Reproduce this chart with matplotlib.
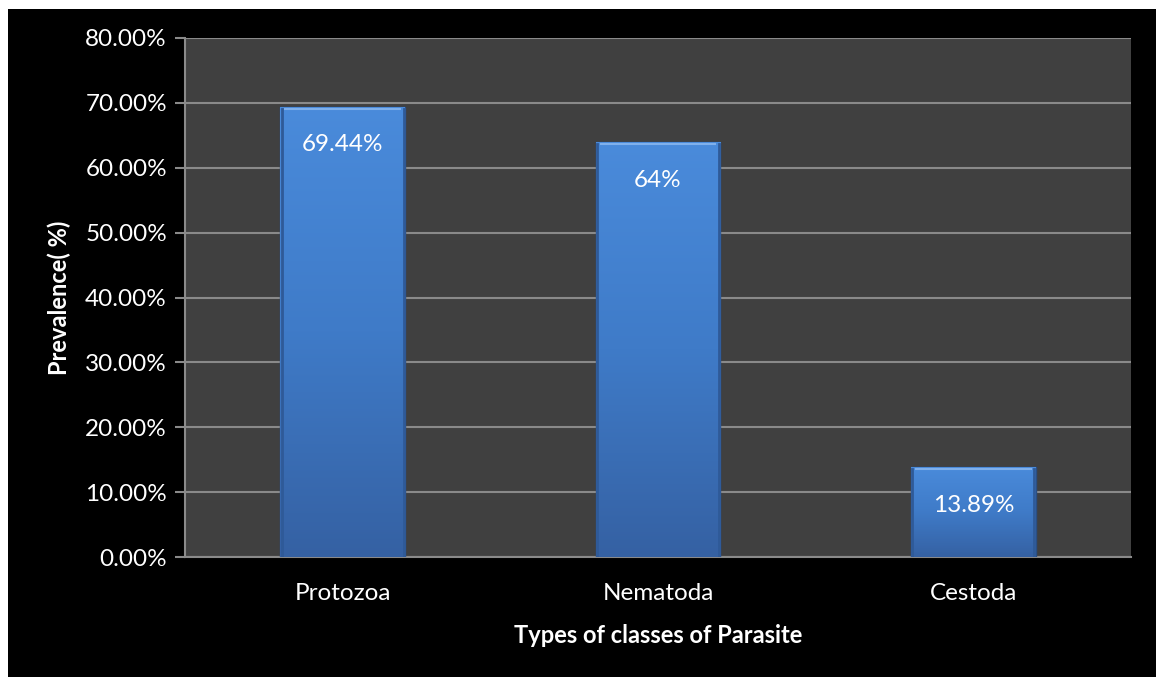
import numpy as np
import matplotlib.pyplot as plt
from matplotlib.patches import Rectangle
from matplotlib.colors import LinearSegmentedColormap

categories = ["Protozoa", "Nematoda", "Cestoda"]
prevalence = [69.44, 64.0, 13.89]
bar_labels = ["69.44%", "64%", "13.89%"]
yticks = [0, 10, 20, 30, 40, 50, 60, 70, 80]

plt.rcParams['font.family'] = ['Lato', 'DejaVu Sans']

fig = plt.figure(figsize=(11.56, 6.77), dpi=100)
fig.patch.set_facecolor('white')
fig.patches.append(Rectangle((8 / 1156, 0), 1, (677 - 9) / 677, transform=fig.transFigure,
                             facecolor='black', edgecolor='none', zorder=-1))

ax = fig.add_axes([185 / 1156, 1 - 557 / 677, (1131 - 185) / 1156, (557 - 38) / 677])
ax.set_facecolor('#404040')

x = np.arange(len(categories))
width = 0.395
bars = ax.bar(x, prevalence, width=width, color='#3d76c4', edgecolor='#2a4f85', linewidth=1.0, zorder=3)

# vertical gradient + bevel look
grad = np.linspace(0, 1, 256).reshape(-1, 1)
cmap = LinearSegmentedColormap.from_list('b', ['#3561a3', '#3f7bc8', '#4a8bdb'])
for b in bars:
    x0, y0, w, h = b.get_x(), b.get_y(), b.get_width(), b.get_height()
    im = ax.imshow(grad, extent=[x0, x0 + w, y0, y0 + h], origin='lower', cmap=cmap,
                   aspect='auto', zorder=3.5)
    im.set_clip_path(b)
    ax.plot([x0 + 0.012, x0 + w - 0.012], [y0 + h - 0.4, y0 + h - 0.4], color='#7fb0ec',
            linewidth=1.5, zorder=4, solid_capstyle='butt')
    ax.plot([x0 + 0.004, x0 + 0.004], [y0, y0 + h - 0.4], color='#2f5a98', linewidth=2, zorder=4)
    ax.plot([x0 + w - 0.004, x0 + w - 0.004], [y0, y0 + h - 0.4], color='#2f5a98', linewidth=2, zorder=4)

for xi, v, lab in zip(x, prevalence, bar_labels):
    ax.text(xi, v - 4.3, lab, ha='center', va='top', color='white', fontsize=17.5, zorder=5)

ax.set_xlim(-0.5, len(categories) - 0.5)
ax.set_ylim(0, 80)
ax.set_yticks(yticks)
ax.set_yticklabels([f"{t:.2f}%" for t in yticks])
ax.set_xticks(x)
ax.set_xticklabels(categories)
ax.yaxis.grid(True, color='#8a8a8a', linewidth=1.5, zorder=1)
ax.set_axisbelow(True)

for s in ['top', 'right']:
    ax.spines[s].set_visible(False)
for s in ['left', 'bottom']:
    ax.spines[s].set_color('#8a8a8a')
    ax.spines[s].set_linewidth(1.5)

ax.tick_params(axis='y', colors='#8a8a8a', labelcolor='white', labelsize=17.5, length=7, width=1.5, pad=6)
ax.tick_params(axis='x', length=0, labelcolor='white', labelsize=17.5, pad=19)

ax.set_ylabel("Prevalence( %)", color='white', fontsize=17, fontweight='bold', labelpad=10)
ax.set_xlabel("Types of classes of Parasite", color='white', fontsize=17, fontweight='bold', labelpad=14)

fig.savefig("out.png", dpi=100, facecolor=fig.get_facecolor())
